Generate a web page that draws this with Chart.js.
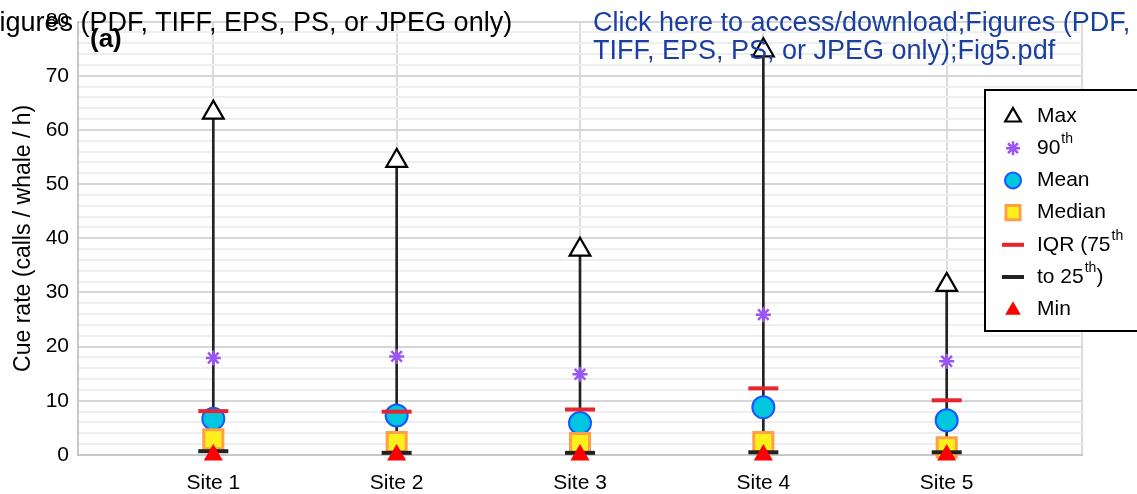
<!DOCTYPE html>
<html>
<head>
<meta charset="utf-8">
<script src="https://cdn.jsdelivr.net/npm/chart.js@4/dist/chart.umd.min.js"></script>
<style>
  html, body { margin: 0; padding: 0; background: #fff; overflow: hidden; }
  #wrap { position: relative; width: 1137px; height: 494px; overflow: hidden; }
  #chart { position: absolute; left: 0; top: 0; }
  .stamp {
    position: absolute;
    font-family: "Liberation Sans", Arial, sans-serif;
    font-size: 27px;
    line-height: 28px;
    white-space: nowrap;
    pointer-events: none;
  }
  #stampLeft { left: -17px; top: 8px; color: #000; }
  #stampRight { left: 593px; top: 8px; color: #1b3fa0; }
  #panel { left: 90px; top: 24px; font-weight: bold; font-size: 26px; color: #000; }
</style>
</head>
<body>
<div id="wrap">
  <canvas id="chart" width="1137" height="494"></canvas>
  <div class="stamp" id="stampLeft">Figures (PDF, TIFF, EPS, PS, or JPEG only)</div>
  <div class="stamp" id="panel">(a)</div>
  <div class="stamp" id="stampRight">Click here to access/download;Figures (PDF,<br>TIFF, EPS, PS, or JPEG only);Fig5.pdf</div>
</div>
<script>
"use strict";

var sites = ["Site 1", "Site 2", "Site 3", "Site 4", "Site 5"];
var maxValues = [63.2, 54.3, 37.9, 74.7, 31.4];
var p90Values = [17.9, 18.2, 14.9, 25.9, 17.3];
var meanValues = [6.7, 7.3, 5.9, 8.8, 6.4];
var medianValues = [2.9, 2.4, 2.2, 2.4, 1.4];
var q75Values = [8.1, 8.0, 8.4, 12.3, 10.1];
var q25Values = [0.7, 0.4, 0.4, 0.5, 0.5];
var minValues = [0, 0, 0, 0, 0];
var yTickLabels = [0, 10, 20, 30, 40, 50, 60, 70, 80];

// legend text: [main, superscript, tail]
var legendLabels = [
  ["Max", "", ""],
  ["90", "th", ""],
  ["Mean", "", ""],
  ["Median", "", ""],
  ["IQR (75", "th", ""],
  ["to 25", "th", ")"],
  ["Min", "", ""]
];

var FONT = "'Liberation Sans', Arial, sans-serif";
var X_MIN = 0.262;
var X_MAX = 5.738;

function toPoints(values) {
  return values.map(function(v, i) {
    return { x: i + 1, y: v };
  });
}

var whiskers = sites.map(function(s, i) {
  return { x: i + 1, y: [minValues[i], maxValues[i]] };
});

// marker styles, also used by the legend (lr = legend radius)
var markerStyles = [
  { data: maxValues, style: "triangle", r: 12, lr: 9, fill: "#fff", stroke: "#000", bw: 2.2 },
  { data: p90Values, style: "star", r: 7.5, lr: 7, fill: "#9a55f2", stroke: "#9a55f2", bw: 2.5 },
  { data: meanValues, style: "circle", r: 11, lr: 8, fill: "#00c6df", stroke: "#1a56ff", bw: 2 },
  { data: medianValues, style: "rect", r: 13.5, lr: 10, fill: "#fff01c", stroke: "#ffa046", bw: 3 },
  { data: q75Values, style: "line", r: 15, lr: 11, fill: "#e8252f", stroke: "#e8252f", bw: 4 },
  { data: q25Values, style: "line", r: 15, lr: 11, fill: "#222", stroke: "#222", bw: 4 },
  { data: minValues, style: "triangle", r: 11, lr: 9, fill: "#ff0000", stroke: "#ff0000", bw: 0 }
];

function buildDatasets() {
  var sets = [
    {
      type: "bar",
      data: whiskers,
      backgroundColor: "#222",
      borderWidth: 0,
      barThickness: 2,
      order: 20
    }
  ];
  markerStyles.forEach(function(m, i) {
    sets.push({
      type: "scatter",
      data: toPoints(m.data),
      pointStyle: m.style,
      pointRadius: m.r,
      pointBackgroundColor: m.fill,
      pointBorderColor: m.stroke,
      pointBorderWidth: m.bw,
      pointHoverRadius: m.r,
      showLine: false,
      clip: false,
      order: 10 - i
    });
  });
  return sets;
}

var markerLegend = {
  id: "markerLegend",
  afterDraw: function(chart) {
    var ctx = chart.ctx;
    ctx.save();
    ctx.fillStyle = "#fff";
    ctx.fillRect(985, 90, 170, 241);
    ctx.strokeStyle = "#000";
    ctx.lineWidth = 2;
    ctx.strokeRect(985, 90, 170, 241);

    markerStyles.forEach(function(m, i) {
      var y = 116 + i * 32.2;
      ctx.fillStyle = m.fill;
      ctx.strokeStyle = m.stroke;
      ctx.lineWidth = m.bw;
      Chart.helpers.drawPoint(ctx, {
        pointStyle: m.style,
        radius: m.lr,
        rotation: 0,
        borderWidth: m.bw
      }, 1013, y + (m.style === "triangle" ? 1 : 0));

      var parts = legendLabels[i];
      var x = 1037;
      ctx.fillStyle = "#000";
      ctx.textBaseline = "middle";
      ctx.textAlign = "left";
      ctx.font = "21px " + FONT;
      ctx.fillText(parts[0], x, y);
      x += ctx.measureText(parts[0]).width;
      if (parts[1]) {
        ctx.font = "14px " + FONT;
        ctx.fillText(parts[1], x + 1, y - 9);
        x += ctx.measureText(parts[1]).width + 1;
      }
      if (parts[2]) {
        ctx.font = "21px " + FONT;
        ctx.fillText(parts[2], x, y);
      }
    });
    ctx.restore();
  }
};

new Chart(document.getElementById("chart").getContext("2d"), {
  type: "scatter",
  data: { datasets: buildDatasets() },
  plugins: [markerLegend],
  options: {
    responsive: false,
    animation: false,
    events: [],
    layout: { padding: { top: 16, right: 55, left: 0, bottom: 0 } },
    plugins: {
      legend: { display: false },
      tooltip: { enabled: false }
    },
    scales: {
      x: {
        type: "linear",
        min: X_MIN,
        max: X_MAX,
        offset: false,
        afterBuildTicks: function(scale) {
          scale.ticks = sites.map(function(s, i) {
            return { value: i + 1 };
          }).concat([{ value: X_MAX }]);
        },
        afterFit: function(scale) {
          scale.height = 39;
        },
        ticks: {
          autoSkip: false,
          maxRotation: 0,
          padding: 16,
          color: "#000",
          font: { size: 21, family: FONT },
          callback: function(v) {
            var k = Math.round(v);
            return Math.abs(v - k) < 0.01 && sites[k - 1] ? sites[k - 1] : "";
          }
        },
        grid: { color: "#dcdcdc", lineWidth: 2, drawTicks: false, offset: false },
        border: { color: "#c8c8c8", width: 2 }
      },
      y: {
        min: 0,
        max: 80,
        afterFit: function(scale) {
          scale.width = 78;
        },
        ticks: {
          stepSize: 2,
          autoSkip: false,
          padding: 9,
          color: "#000",
          font: { size: 21, family: FONT },
          callback: function(v) {
            return yTickLabels.indexOf(v) >= 0 ? String(v) : "";
          }
        },
        grid: {
          drawTicks: false,
          lineWidth: 2,
          color: function(c) {
            return yTickLabels.indexOf(c.tick.value) >= 0 ? "#d6d6d6" : "#eeeeee";
          }
        },
        border: { color: "#c8c8c8", width: 2 },
        title: {
          display: true,
          text: "Cue rate (calls / whale / h)",
          color: "#000",
          font: { size: 23, family: FONT },
          padding: { top: 10, bottom: 0 }
        }
      }
    }
  }
});
</script>
</body>
</html>
